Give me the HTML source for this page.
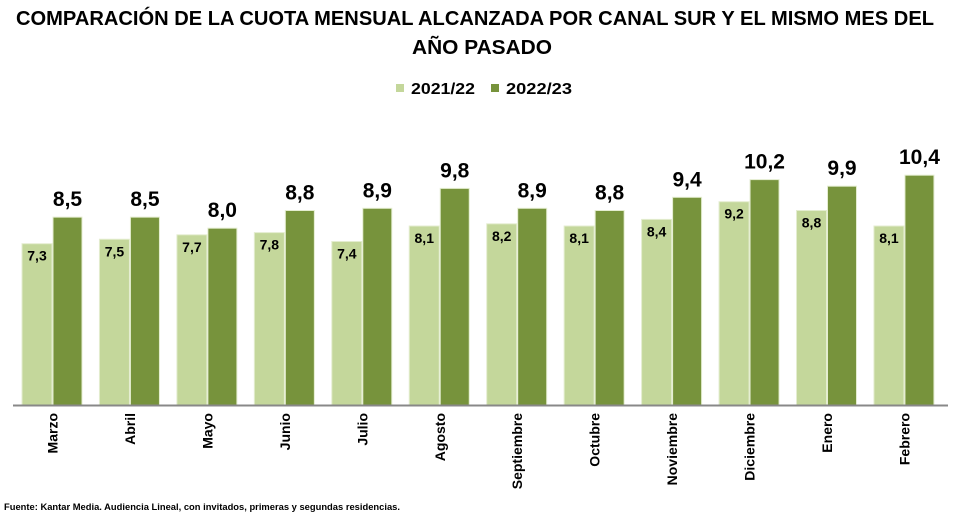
<!DOCTYPE html>
<html><head><meta charset="utf-8"><style>html,body{margin:0;padding:0;background:#fff}svg{display:block}</style></head>
<body>
<svg width="962" height="520" viewBox="0 0 962 520" xmlns="http://www.w3.org/2000/svg" font-family="Liberation Sans, sans-serif" font-weight="bold">
<text x="475" y="25" text-anchor="middle" font-size="20" textLength="918" lengthAdjust="spacingAndGlyphs">COMPARACIÓN DE LA CUOTA MENSUAL ALCANZADA POR CANAL SUR Y EL MISMO MES DEL</text>
<text x="482" y="54" text-anchor="middle" font-size="20" textLength="140" lengthAdjust="spacingAndGlyphs">AÑO PASADO</text>
<rect x="396" y="84" width="8" height="8" fill="#c4d79b"/>
<text x="411" y="94" font-size="16" textLength="64" lengthAdjust="spacingAndGlyphs">2021/22</text>
<rect x="491" y="84" width="8" height="8" fill="#77933c"/>
<text x="506" y="94" font-size="16" textLength="66" lengthAdjust="spacingAndGlyphs">2022/23</text>

<g stroke="#e4edd0" stroke-width="1">
<g fill="#c4d79b">
<rect x="22" y="243.7" width="30" height="161.3"/>
<rect x="99.45" y="239.25" width="30" height="165.75"/>
<rect x="176.9" y="234.8" width="30" height="170.2"/>
<rect x="254.35" y="232.6" width="30" height="172.4"/>
<rect x="331.8" y="241.5" width="30" height="163.5"/>
<rect x="409.25" y="226" width="30" height="179"/>
<rect x="486.7" y="223.8" width="30" height="181.2"/>
<rect x="564.15" y="226" width="30" height="179"/>
<rect x="641.6" y="219.4" width="30" height="185.6"/>
<rect x="719.05" y="201.7" width="30" height="203.3"/>
<rect x="796.5" y="210.5" width="30" height="194.5"/>
<rect x="873.95" y="226" width="30" height="179"/>
</g>
<g fill="#77933c">
<rect x="53" y="217.15" width="29" height="187.85"/>
<rect x="130.45" y="217.15" width="29" height="187.85"/>
<rect x="207.9" y="228.2" width="29" height="176.8"/>
<rect x="285.35" y="210.5" width="29" height="194.5"/>
<rect x="362.8" y="208.3" width="29" height="196.7"/>
<rect x="440.25" y="188.4" width="29" height="216.6"/>
<rect x="517.7" y="208.3" width="29" height="196.7"/>
<rect x="595.15" y="210.5" width="29" height="194.5"/>
<rect x="672.6" y="197.3" width="29" height="207.7"/>
<rect x="750.05" y="179.6" width="29" height="225.4"/>
<rect x="827.5" y="186.2" width="29" height="218.8"/>
<rect x="904.95" y="175.2" width="29" height="229.8"/>
</g>
</g>

<g font-size="14" text-anchor="middle">
<text x="37" y="260.7">7,3</text>
<text x="114.45" y="256.25">7,5</text>
<text x="191.9" y="251.8">7,7</text>
<text x="269.35" y="249.6">7,8</text>
<text x="346.8" y="258.5">7,4</text>
<text x="424.25" y="243">8,1</text>
<text x="501.7" y="240.8">8,2</text>
<text x="579.15" y="243">8,1</text>
<text x="656.6" y="236.4">8,4</text>
<text x="734.05" y="218.7">9,2</text>
<text x="811.5" y="227.5">8,8</text>
<text x="888.95" y="243">8,1</text>
</g>
<g font-size="21" text-anchor="middle">
<text x="67.5" y="206.15">8,5</text>
<text x="144.95" y="206.15">8,5</text>
<text x="222.4" y="217.2">8,0</text>
<text x="299.85" y="199.5">8,8</text>
<text x="377.3" y="197.3">8,9</text>
<text x="454.75" y="177.4">9,8</text>
<text x="532.2" y="197.3">8,9</text>
<text x="609.65" y="199.5">8,8</text>
<text x="687.1" y="186.3">9,4</text>
<text x="764.55" y="168.6">10,2</text>
<text x="842" y="175.2">9,9</text>
<text x="919.45" y="164.2">10,4</text>
</g>
<g font-size="14" text-anchor="end">
<text transform="translate(57.5,413) rotate(-90)">Marzo</text>
<text transform="translate(134.95,413) rotate(-90)">Abril</text>
<text transform="translate(212.4,413) rotate(-90)">Mayo</text>
<text transform="translate(289.85,413) rotate(-90)">Junio</text>
<text transform="translate(367.3,413) rotate(-90)">Julio</text>
<text transform="translate(444.75,413) rotate(-90)">Agosto</text>
<text transform="translate(522.2,413) rotate(-90)">Septiembre</text>
<text transform="translate(599.65,413) rotate(-90)">Octubre</text>
<text transform="translate(677.1,413) rotate(-90)">Noviembre</text>
<text transform="translate(754.55,413) rotate(-90)">Diciembre</text>
<text transform="translate(832,413) rotate(-90)">Enero</text>
<text transform="translate(909.45,413) rotate(-90)">Febrero</text>
</g>

<line x1="13" y1="405.5" x2="948" y2="405.5" stroke="#888" stroke-width="2"/>
<text x="4" y="510" font-size="9" textLength="396" lengthAdjust="spacingAndGlyphs">Fuente: Kantar Media. Audiencia Lineal, con invitados, primeras y segundas residencias.</text>
</svg>
</body></html>
